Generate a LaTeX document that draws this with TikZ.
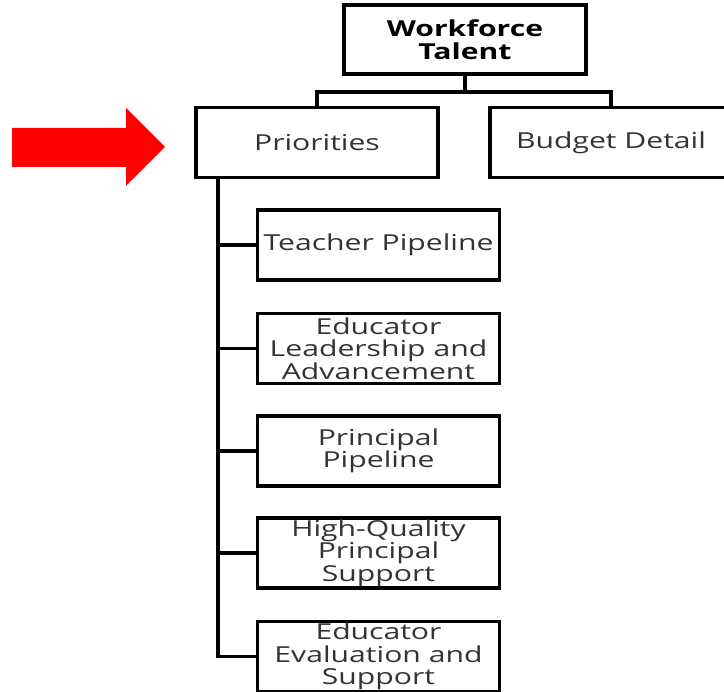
\documentclass[tikz,border=0pt]{standalone}
\usepackage{fontspec}
\setmainfont[FakeStretch=1.37]{Open Sans}
\usepackage{tikz}

\begin{document}
\begin{tikzpicture}
        [x=1pt,y=-1pt,every node/.style={draw,line width=3.2pt,black,fill=white,align=center,inner sep=0,minimum width=242pt,minimum height=70pt,text=black!80,font=\fontsize{22}{22.5}\selectfont}, every path/.style={line width=3.2pt}]

        \useasboundingbox (0,0) rectangle (724,692);

        % top level
        \node[font=\bfseries\fontsize{22}{22.5}\selectfont,text=black,minimum height=69pt] (wft) at (465,39.5) {Workforce\\Talent};
        \node (pri) at (317,142.5) {Priorities};
        \node (bud) at (611,142.5) {Budget Detail};

        % priorities
        \node (tp) at (378.5,245) {Teacher Pipeline};
        \node (ela) at (378.5,348.5) {Educator\\Leadership and\\Advancement};
        \node (pp) at (378.5,451) {Principal\\Pipeline};
        \node (hqp) at (378.5,553) {High-Quality\\Principal\\Support};
        \node (ees) at (378.5,656.5) {Educator\\Evaluation and\\Support};

        \coordinate (fork) at (465,92);
        \coordinate (spine) at (218,179);

        \draw (wft) -- (fork);
        \draw (fork) -| (pri);
        \draw (fork) -| (bud);
        \draw (spine) |- (tp.west);
        \draw (spine) |- (ela.west);
        \draw (spine) |- (pp.west);
        \draw (spine) |- (hqp.west);
        \draw (spine) |- (ees.west);

        % red pointer
        \fill[red] (12,128) -- (126,128) -- (126,108) -- (165,147) -- (126,186) -- (126,167) -- (12,167) -- cycle;
      \end{tikzpicture}
\end{document}
